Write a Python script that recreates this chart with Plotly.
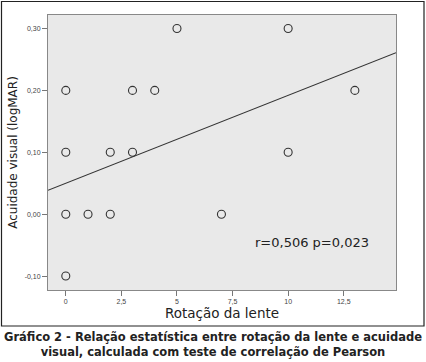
import plotly.graph_objects as go

# Data
rotacao = [0, 0, 0, 0, 1, 2, 2, 3, 3, 4, 5, 7, 10, 10, 13]
acuidade = [0.20, 0.10, 0.00, -0.10, 0.00, 0.10, 0.00, 0.20, 0.10, 0.20, 0.30, 0.00, 0.30, 0.10, 0.20]

fit_intercept = 0.050
fit_slope = 0.0142

x_range = [-0.8, 14.85]
y_range = [-0.1225, 0.3218]

x_tickvals = [0, 2.5, 5, 7.5, 10, 12.5]
x_ticktext = ["0", "2,5", "5", "7,5", "10", "12,5"]
y_tickvals = [-0.10, 0.00, 0.10, 0.20, 0.30]
y_ticktext = ["-0,10", "0,00", "0,10", "0,20", "0,30"]

stat_text = "r=0,506 p=0,023"
x_title = "Rotação da lente"
y_title = "Acuidade visual (logMAR)"
caption = ("<b>Gráfico 2 - Relação estatística entre rotação da lente e acuidade</b><br>"
           "<b>visual, calculada com teste de correlação de Pearson</b>")

fig = go.Figure()

line_x = x_range
line_y = [fit_intercept + fit_slope * v for v in line_x]
fig.add_trace(go.Scatter(x=line_x, y=line_y, mode="lines",
                         line=dict(color="#333333", width=1.1),
                         hoverinfo="skip", showlegend=False))

fig.add_trace(go.Scatter(x=rotacao, y=acuidade, mode="markers",
                         marker=dict(symbol="circle-open", size=8,
                                     color="#333333", line=dict(width=1.1)),
                         showlegend=False))

W, H = 426, 362
L, R, T, B = 48, 30, 15, 72
pw, ph = W - L - R, H - T - B

def px(xp):
    return (xp - L) / pw

def py(yp):
    return (H - B - yp) / ph

fig.update_layout(
    width=W, height=H,
    margin=dict(l=L, r=R, t=T, b=B, autoexpand=False),
    paper_bgcolor="white",
    plot_bgcolor="#e9e9e9",
    font=dict(family="DejaVu Sans", color="#222222"),
    xaxis=dict(range=x_range, tickvals=x_tickvals, ticktext=x_ticktext,
               ticks="outside", ticklen=5, tickcolor="#777777",
               tickfont=dict(family="Liberation Sans", size=7, color="#444444"),
               showgrid=False, zeroline=False, showline=True,
               linecolor="#888888", linewidth=1, mirror=True, automargin=False,
               title=dict(text=x_title, font=dict(size=13.5, color="#222222"),
                          standoff=1)),
    yaxis=dict(range=y_range, tickvals=y_tickvals, ticktext=y_ticktext,
               ticks="outside", ticklen=5, tickcolor="#777777",
               tickfont=dict(family="Liberation Sans", size=7, color="#444444"),
               showgrid=False, zeroline=False, showline=True,
               linecolor="#888888", linewidth=1, mirror=True, automargin=False,
               title=dict(text=y_title, font=dict(size=12, color="#222222"),
                          standoff=4)),
    shapes=[dict(type="rect", xref="paper", yref="paper",
                 x0=px(1.5), x1=px(424), y0=py(326), y1=py(1.5),
                 line=dict(color="#222222", width=1.2), layer="below")],
    annotations=[
        dict(text=stat_text, xref="paper", yref="paper",
             x=px(312), y=py(242), xanchor="center", yanchor="middle",
             showarrow=False, font=dict(size=13, color="#222222")),
        dict(text=caption, xref="paper", yref="paper",
             x=px(213), y=py(344), xanchor="center", yanchor="middle",
             showarrow=False,
             font=dict(family="DejaVu Sans", size=11.5, color="#222222")),
    ],
)

fig.write_html("out.html", config={"displayModeBar": False},
               post_script="document.body.style.margin='0';window.dispatchEvent(new Event('resize'));")
